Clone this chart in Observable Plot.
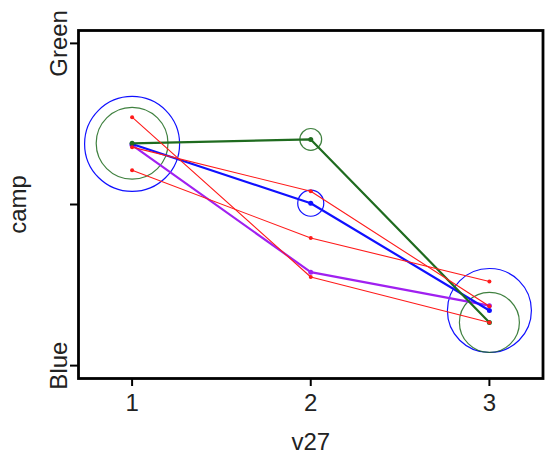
<!DOCTYPE html>
<html>
<head>
<meta charset="utf-8">
<script src="https://cdn.jsdelivr.net/npm/d3@7"></script>
<script src="https://cdn.jsdelivr.net/npm/@observablehq/plot@0.6"></script>
<style>
  html, body { margin: 0; padding: 0; background: #fff; }
  #chart svg { font-family: "Liberation Sans", Arial, sans-serif; }
</style>
</head>
<body>
<div id="chart"></div>
<script>
// v27 levels on the x axis
const v27 = [1, 2, 3];

// Share of "Green" for camp at each v27 level (0 = Blue, 1 = Green)
const red1 = [0.771, 0.275, 0.134];
const red2 = [0.678, 0.541, 0.184];
const red3 = [0.606, 0.396, 0.261];
const purpleMean = [0.684, 0.290, 0.186];
const blueMean = [0.688, 0.504, 0.171];
const greenMean = [0.690, 0.702, 0.134];

// Group sizes behind the blue and green means
const blueN = [133, 10, 104];
const greenN = [76, 7, 53];

// camp axis ticks
const campTicks = [0, 0.5, 1];
const campLabels = ["Blue", "", "Green"];

const rows = (name, ys, ns) =>
  v27.map((x, i) => ({series: name, x, y: ys[i], n: ns ? ns[i] : null}));

const redRows = [
  ...rows("r1", red1),
  ...rows("r2", red2),
  ...rows("r3", red3)
];
const purpleRows = rows("purple", purpleMean);
const blueRows = rows("blue", blueMean, blueN);
const greenRows = rows("green", greenMean, greenN);

const labelRows = campTicks.map((t, i) => ({y: t, label: campLabels[i]}));

const GREEN = "#1f6b1f";
const BLUE = "#1010ff";
const PURPLE = "#a020f0";
const RED = "#ff1a1a";

const chart = Plot.plot({
  width: 549,
  height: 472,
  marginLeft: 78,
  marginRight: 6.5,
  marginTop: 30,
  marginBottom: 94,
  style: {background: "#fff", color: "#222", fontSize: "24px"},
  x: {domain: [0.7, 3.3]},
  y: {domain: [-0.04, 1.04]},
  r: {type: "sqrt", domain: [0, 133], range: [0, 47.5]},
  marks: [
    // size circles
    Plot.dot(blueRows, {x: "x", y: "y", r: "n", stroke: BLUE, strokeWidth: 1.2, fill: "none"}),
    Plot.dot(greenRows, {x: "x", y: "y", r: "n", stroke: GREEN, strokeOpacity: 0.85, strokeWidth: 1.2, fill: "none"}),

    // group means
    Plot.line(purpleRows, {x: "x", y: "y", stroke: PURPLE, strokeWidth: 2.2}),
    Plot.dot(purpleRows, {x: "x", y: "y", r: 2.5, fill: PURPLE}),
    Plot.line(blueRows, {x: "x", y: "y", stroke: BLUE, strokeWidth: 2.2}),
    Plot.dot(blueRows, {x: "x", y: "y", r: 2.5, fill: BLUE}),
    Plot.line(greenRows, {x: "x", y: "y", stroke: GREEN, strokeWidth: 2.2}),
    Plot.dot(greenRows, {x: "x", y: "y", r: 2.5, fill: GREEN}),

    // individual series
    Plot.line(redRows, {x: "x", y: "y", z: "series", stroke: RED, strokeWidth: 1.1}),
    Plot.dot(redRows, {x: "x", y: "y", r: 2, fill: RED}),

    // axes
    Plot.axisX({ticks: v27, tickFormat: d3.format("d"), tickSize: 8, tickPadding: 7, strokeWidth: 2, stroke: "#000", fontSize: 24, label: null}),
    Plot.axisY({ticks: campTicks, tickSize: 8, tickFormat: () => "", strokeWidth: 2, stroke: "#000", label: null}),
    Plot.text(labelRows, {
      y: "y", text: "label", frameAnchor: "left", dx: -11.5,
      rotate: -90, textAnchor: "middle", lineAnchor: "bottom", fontSize: 24, fill: "#222"
    }),
    Plot.text(["camp"], {
      frameAnchor: "left", dx: -53, rotate: -90,
      textAnchor: "middle", lineAnchor: "bottom", fontSize: 24, fill: "#222"
    }),
    Plot.text(["v27"], {
      frameAnchor: "bottom", dy: 71, textAnchor: "middle", lineAnchor: "bottom", fontSize: 24, fill: "#222"
    }),
    Plot.frame({stroke: "#000", strokeWidth: 2.8})
  ]
});

document.getElementById("chart").appendChild(chart);
</script>
</body>
</html>
